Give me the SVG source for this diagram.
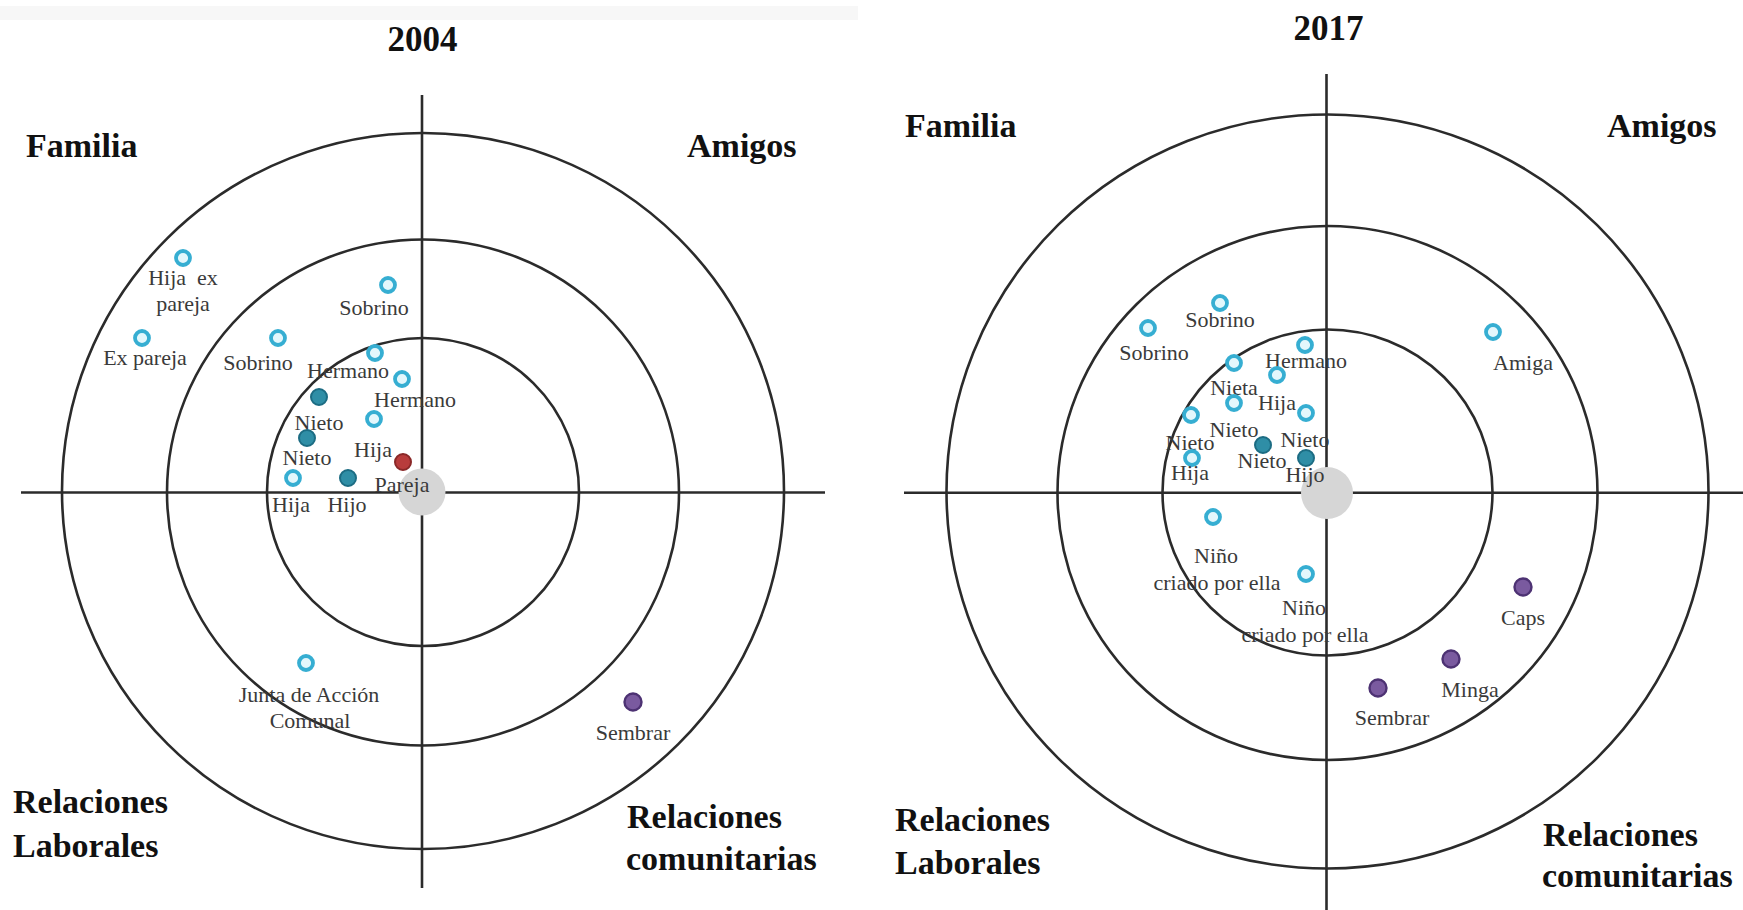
<svg xmlns="http://www.w3.org/2000/svg" width="1743" height="910" viewBox="0 0 1743 910">
<style>
.ring{fill:none;stroke:#2b2b2b;stroke-width:2.6}
.axis{stroke:#2b2b2b;stroke-width:2.6}
.core{fill:#d6d6d6}
.open{fill:#e3f7fc;stroke:#36aed2;stroke-width:3.8}
.teal{fill:#2f8ea6;stroke:#1c6c83;stroke-width:2}
.red{fill:#b83c3c;stroke:#8a2828;stroke-width:2}
.purple{fill:#7a5a9f;stroke:#4d3273;stroke-width:2.4}
.lbl{font-family:"Liberation Serif","Times New Roman",serif;font-size:22px;fill:#3a3a3a;text-anchor:middle}
.head{font-family:"Liberation Serif","Times New Roman",serif;font-size:34px;font-weight:bold;fill:#111}
.title{font-family:"Liberation Serif","Times New Roman",serif;font-size:35px;font-weight:bold;fill:#111;text-anchor:middle}
</style>
<rect x="0" y="0" width="1743" height="910" fill="#ffffff"/>
<rect x="0" y="6" width="858" height="14" fill="#f7f7f7"/>

<!-- ===== 2004 ===== -->
<g id="chart-2004">
  <text class="title" x="422.5" y="50.5">2004</text>
  <text class="head" x="26" y="157">Familia</text>
  <text class="head" x="687" y="157">Amigos</text>
  <text class="head" x="13" y="813">Relaciones</text>
  <text class="head" x="13" y="857">Laborales</text>
  <text class="head" x="627" y="828">Relaciones</text>
  <text class="head" x="626" y="870">comunitarias</text>
  <g id="grid-2004">
    <ellipse class="ring" cx="423" cy="492" rx="156" ry="154"/>
    <ellipse class="ring" cx="423" cy="492.5" rx="256" ry="253"/>
    <ellipse class="ring" cx="423" cy="491" rx="361" ry="358"/>
    <line class="axis" x1="422" y1="95" x2="422" y2="888"/>
    <line class="axis" x1="21" y1="492.5" x2="825" y2="492.5"/>
    <circle class="core" cx="422" cy="492" r="23.5"/>
  </g>
  <g id="n04-hija-ex-pareja"><circle class="open" cx="183" cy="258" r="7"/><text class="lbl" x="183" y="285">Hija&#160; ex</text><text class="lbl" x="183" y="311">pareja</text></g>
  <g id="n04-ex-pareja"><circle class="open" cx="142" cy="338" r="7"/><text class="lbl" x="145" y="365">Ex pareja</text></g>
  <g id="n04-sobrino-1"><circle class="open" cx="388" cy="285" r="7"/><text class="lbl" x="374" y="315">Sobrino</text></g>
  <g id="n04-sobrino-2"><circle class="open" cx="278" cy="338" r="7"/><text class="lbl" x="258" y="370">Sobrino</text></g>
  <g id="n04-hermano-1"><circle class="open" cx="375" cy="353" r="7"/><text class="lbl" x="348" y="378">Hermano</text></g>
  <g id="n04-hermano-2"><circle class="open" cx="402" cy="379" r="7"/><text class="lbl" x="415" y="407">Hermano</text></g>
  <g id="n04-nieto-1"><circle class="teal" cx="319" cy="397" r="8"/><text class="lbl" x="319" y="430">Nieto</text></g>
  <g id="n04-hija-1"><circle class="open" cx="374" cy="419" r="7"/><text class="lbl" x="373" y="457">Hija</text></g>
  <g id="n04-nieto-2"><circle class="teal" cx="307" cy="438" r="8"/><text class="lbl" x="307" y="465">Nieto</text></g>
  <g id="n04-pareja"><circle class="red" cx="403" cy="462" r="8"/><text class="lbl" x="402" y="492">Pareja</text></g>
  <g id="n04-hija-2"><circle class="open" cx="293" cy="478" r="7"/><text class="lbl" x="291" y="512">Hija</text></g>
  <g id="n04-hijo"><circle class="teal" cx="348" cy="478" r="8"/><text class="lbl" x="347" y="512">Hijo</text></g>
  <g id="n04-junta"><circle class="open" cx="306" cy="663" r="7"/><text class="lbl" x="309" y="702">Junta de Acción</text><text class="lbl" x="310" y="728">Comunal</text></g>
  <g id="n04-sembrar"><circle class="purple" cx="633" cy="702" r="8.5"/><text class="lbl" x="633" y="740">Sembrar</text></g>
</g>

<!-- ===== 2017 ===== -->
<g id="chart-2017">
  <text class="title" x="1328.5" y="39.5">2017</text>
  <text class="head" x="905" y="137">Familia</text>
  <text class="head" x="1607" y="137">Amigos</text>
  <text class="head" x="895" y="831">Relaciones</text>
  <text class="head" x="895" y="874">Laborales</text>
  <text class="head" x="1543" y="846">Relaciones</text>
  <text class="head" x="1542" y="887">comunitarias</text>
  <g id="grid-2017">
    <ellipse class="ring" cx="1327.5" cy="492.5" rx="165" ry="163"/>
    <ellipse class="ring" cx="1327.5" cy="493" rx="270" ry="267"/>
    <ellipse class="ring" cx="1327.5" cy="491.5" rx="381" ry="377"/>
    <line class="axis" x1="1326.5" y1="74" x2="1326.5" y2="910"/>
    <line class="axis" x1="904" y1="492.7" x2="1743" y2="492.7"/>
    <circle class="core" cx="1327" cy="493" r="26"/>
  </g>
  <g id="n17-sobrino-1"><circle class="open" cx="1220" cy="303" r="7"/><text class="lbl" x="1220" y="327">Sobrino</text></g>
  <g id="n17-sobrino-2"><circle class="open" cx="1148" cy="328" r="7"/><text class="lbl" x="1154" y="360">Sobrino</text></g>
  <g id="n17-hermano"><circle class="open" cx="1305" cy="345" r="7"/><text class="lbl" x="1306" y="368">Hermano</text></g>
  <g id="n17-nieta"><circle class="open" cx="1234" cy="363" r="7"/><text class="lbl" x="1234" y="395">Nieta</text></g>
  <g id="n17-hija-1"><circle class="open" cx="1277" cy="375" r="7"/><text class="lbl" x="1277" y="410">Hija</text></g>
  <g id="n17-nieto-1"><circle class="open" cx="1234" cy="403" r="7"/><text class="lbl" x="1234" y="437">Nieto</text></g>
  <g id="n17-nieto-2"><circle class="open" cx="1191" cy="415" r="7"/><text class="lbl" x="1190" y="450">Nieto</text></g>
  <g id="n17-nieto-3"><circle class="open" cx="1306" cy="413" r="7"/><text class="lbl" x="1305" y="447">Nieto</text></g>
  <g id="n17-nieto-4"><circle class="teal" cx="1263" cy="445" r="8"/><text class="lbl" x="1262" y="468">Nieto</text></g>
  <g id="n17-hija-2"><circle class="open" cx="1192" cy="458" r="7"/><text class="lbl" x="1190" y="480">Hija</text></g>
  <g id="n17-hijo"><circle class="teal" cx="1306" cy="458" r="8"/><text class="lbl" x="1305" y="482">Hijo</text></g>
  <g id="n17-nino-1"><circle class="open" cx="1213" cy="517" r="7"/><text class="lbl" x="1216" y="563">Niño</text><text class="lbl" x="1217" y="590">criado por ella</text></g>
  <g id="n17-nino-2"><circle class="open" cx="1306" cy="574" r="7"/><text class="lbl" x="1304" y="615">Niño</text><text class="lbl" x="1305" y="642">criado por ella</text></g>
  <g id="n17-amiga"><circle class="open" cx="1493" cy="332" r="7"/><text class="lbl" x="1523" y="370">Amiga</text></g>
  <g id="n17-caps"><circle class="purple" cx="1523" cy="587" r="8.5"/><text class="lbl" x="1523" y="625">Caps</text></g>
  <g id="n17-minga"><circle class="purple" cx="1451" cy="659" r="8.5"/><text class="lbl" x="1470" y="697">Minga</text></g>
  <g id="n17-sembrar"><circle class="purple" cx="1378" cy="688" r="8.5"/><text class="lbl" x="1392" y="725">Sembrar</text></g>
</g>
</svg>
